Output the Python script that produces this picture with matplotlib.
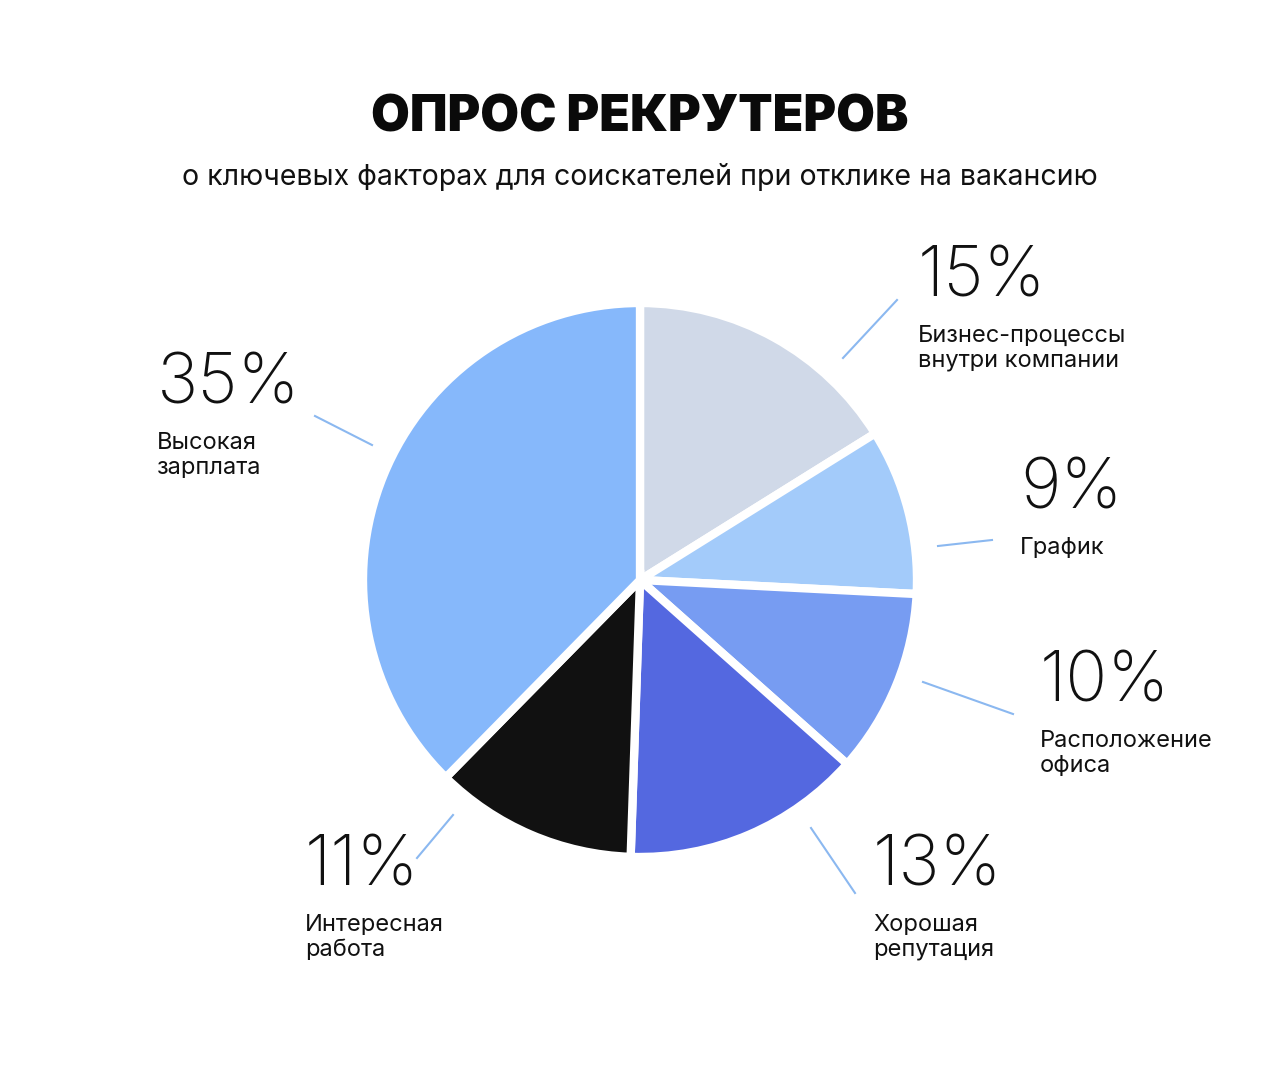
import matplotlib; matplotlib.use("Agg")
import matplotlib.pyplot as plt
from matplotlib.lines import Line2D

values = [15, 9, 10, 13, 11, 35]
names = ["Бизнес-процессы\nвнутри компании", "График", "Расположение\nофиса",
         "Хорошая\nрепутация", "Интересная\nработа", "Высокая\nзарплата"]
colors = ["#D0D9E8", "#A3CBFA", "#779CF2", "#5468E0", "#111111", "#86B8FB"]

W, H = 1280, 1080
fig = plt.figure(figsize=(W/100, H/100), dpi=100)
plt.rcParams['font.family'] = ['Inter', 'DejaVu Sans']

def fx(x): return x / W
def fy(y): return 1 - y / H

cx, cy, r = 640, 580, 277
ax = fig.add_axes([fx(cx - r), fy(cy + r), 2*r/W, 2*r/H])
ax.pie(values, colors=colors, startangle=90, counterclock=False,
       wedgeprops=dict(edgecolor="white", linewidth=6))
ax.set_aspect("auto")
ax.set_xlim(-1, 1)
ax.set_ylim(-1, 1)

fig.text(0.5, fy(118), "ОПРОС РЕКРУТЕРОВ", ha="center", va="center",
         fontsize=36, fontweight="black", color="#0a0a0a")
fig.text(0.5, fy(177), "о ключевых факторах для соискателей при отклике на вакансию",
         ha="center", va="center", fontsize=20.5, color="#111111")

# (pct x, pct y, line start, line end)
labels = [
    (918, 278, (843, 358), (897, 300)),
    (1020, 490, (938, 546), (992, 540)),
    (1040, 683, (923, 682), (1013, 714)),
    (873, 867, (811, 828), (855, 893)),
    (305, 867, (453, 815), (417, 858)),
    (157, 385, (315, 416), (372, 445)),
]
for (x, y, p0, p1), v, n in zip(labels, values, names):
    fig.text(fx(x), fy(y), f"{v}%", ha="left", va="center", fontsize=50,
             fontweight="light", color="#111111")
    fig.text(fx(x), fy(y + 47), n, ha="left", va="top", fontsize=17,
             color="#111111", linespacing=1.15)
    fig.add_artist(Line2D([fx(p0[0]), fx(p1[0])], [fy(p0[1]), fy(p1[1])],
                          color="#8BB8F0", lw=1.5))

fig.savefig("out.png", dpi=100, facecolor="white")
